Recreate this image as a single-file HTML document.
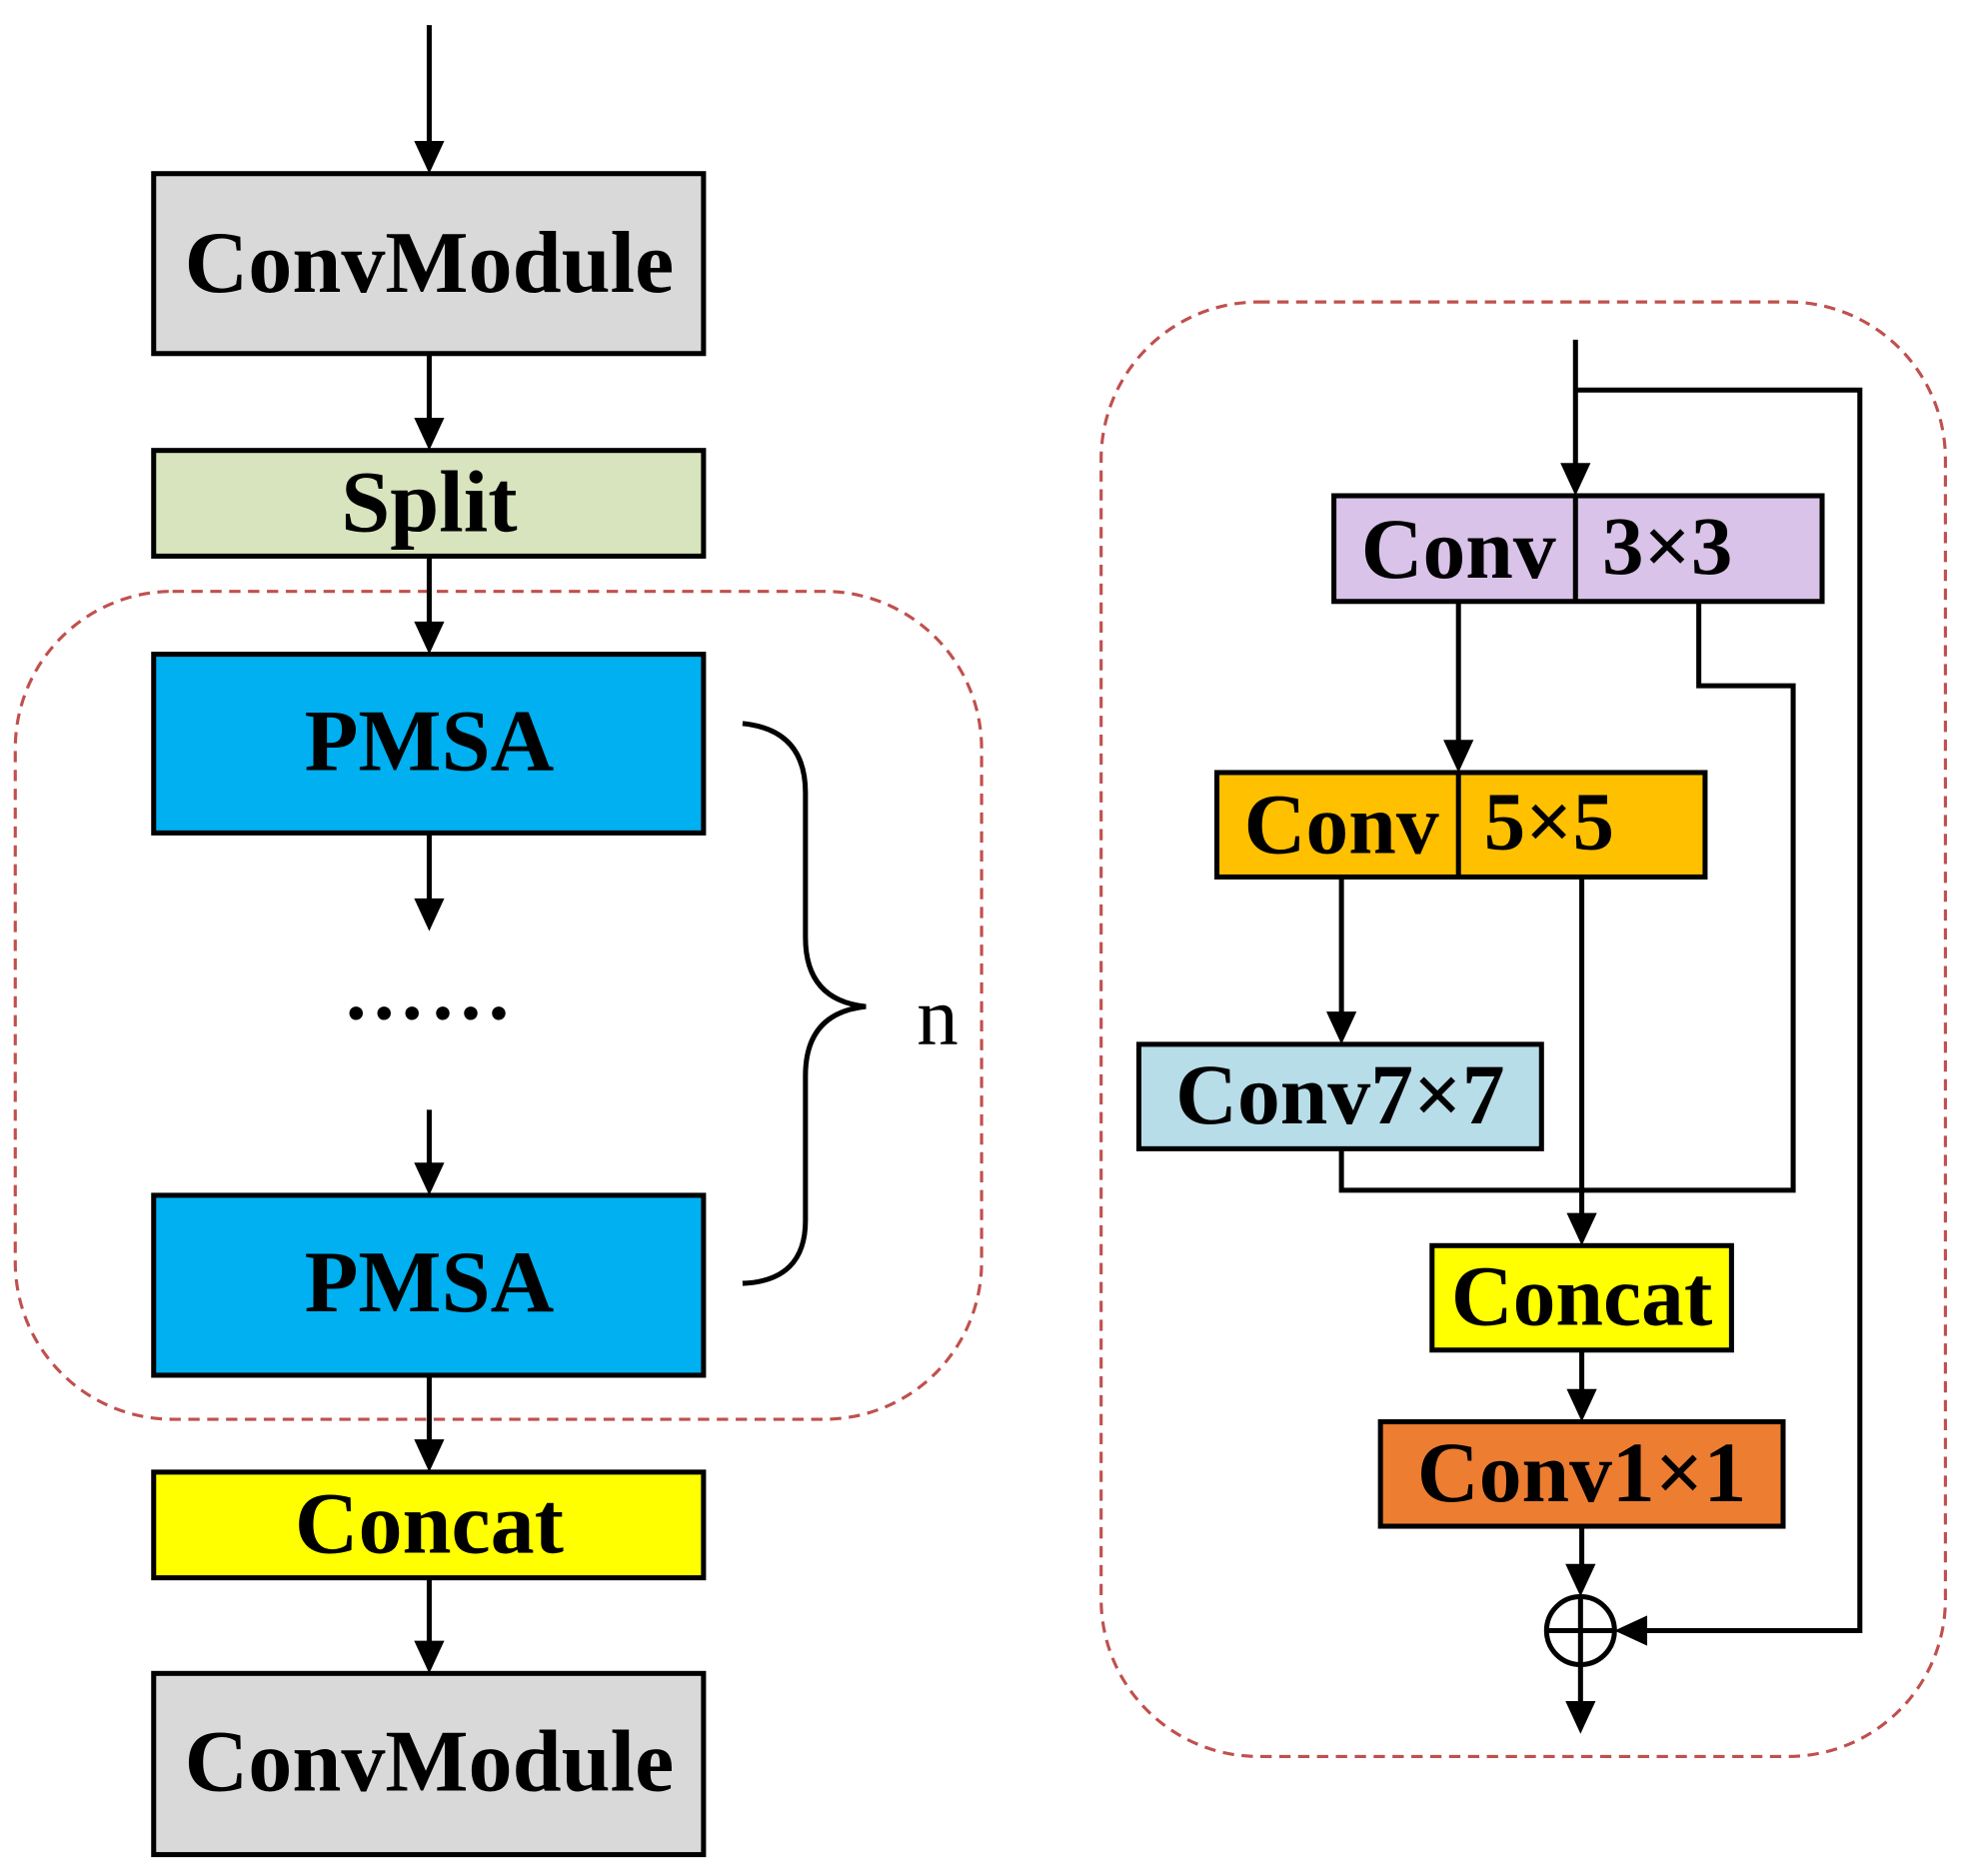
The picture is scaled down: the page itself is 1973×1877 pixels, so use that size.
<!DOCTYPE html>
<html><head><meta charset="utf-8"><style>
html,body{margin:0;padding:0;background:#fff;}
svg{display:block;}
text{font-family:"Liberation Serif",serif;font-weight:bold;fill:#000;}
</style></head><body>
<svg width="1973" height="1877" viewBox="0 0 1567 1491" xmlns="http://www.w3.org/2000/svg">
<g stroke="#000" stroke-width="4" fill="none">
<rect x="12" y="470" width="768" height="658" rx="125" stroke="#c0504d" stroke-width="2.5" stroke-dasharray="9,6"/>
<rect x="875" y="240" width="671" height="1156" rx="125" stroke="#c0504d" stroke-width="2.5" stroke-dasharray="9,6"/>
<line x1="341" y1="20" x2="341" y2="120"/>
<line x1="341" y1="281" x2="341" y2="340"/>
<line x1="341" y1="442" x2="341" y2="502"/>
<line x1="341" y1="662" x2="341" y2="720"/>
<line x1="341" y1="882" x2="341" y2="930"/>
<line x1="341" y1="1093" x2="341" y2="1152"/>
<line x1="341" y1="1254" x2="341" y2="1312"/>
<path d="M590 575 Q640 580 640 630 L640 745 Q640 795 688 800 Q640 805 640 855 L640 970 Q640 1018 590 1020"/>
<line x1="1252" y1="270" x2="1252" y2="376"/>
<polyline points="1252,310 1478,310 1478,1296 1303,1296"/>
<line x1="1159" y1="478" x2="1159" y2="596"/>
<polyline points="1350,478 1350,545 1425,545 1425,946 1066,946 1066,913"/>
<line x1="1066" y1="697" x2="1066" y2="812"/>
<line x1="1257" y1="697" x2="1257" y2="972"/>
<line x1="1257" y1="1073" x2="1257" y2="1112"/>
<line x1="1257" y1="1213" x2="1257" y2="1250"/>
<circle cx="1256" cy="1296" r="27"/>
<line x1="1229" y1="1296" x2="1283" y2="1296"/>
<line x1="1256" y1="1269" x2="1256" y2="1360"/>
</g>
<g fill="#000">
<polygon points="329,112 353,112 341,138"/>
<polygon points="329,332 353,332 341,358"/>
<polygon points="329,494 353,494 341,520"/>
<polygon points="329,714 353,714 341,740"/>
<polygon points="329,924 353,924 341,950"/>
<polygon points="329,1144 353,1144 341,1170"/>
<polygon points="329,1304 353,1304 341,1330"/>
<polygon points="1240,368 1264,368 1252,394"/>
<polygon points="1147,588 1171,588 1159,614"/>
<polygon points="1054,804 1078,804 1066,830"/>
<polygon points="1245,964 1269,964 1257,990"/>
<polygon points="1245,1104 1269,1104 1257,1130"/>
<polygon points="1244,1243 1268,1243 1256,1269"/>
<polygon points="1244,1352 1268,1352 1256,1378"/>
<polygon points="1309,1284 1309,1308 1283,1296"/>
</g>
<g stroke="#000" stroke-width="4">
<rect x="122" y="138" width="437" height="143" fill="#d9d9d9"/>
<rect x="122" y="358" width="437" height="84" fill="#d7e4bd"/>
<rect x="122" y="520" width="437" height="142" fill="#00b0f0"/>
<rect x="122" y="950" width="437" height="143" fill="#00b0f0"/>
<rect x="122" y="1170" width="437" height="84" fill="#ffff00"/>
<rect x="122" y="1330" width="437" height="144" fill="#d9d9d9"/>
<rect x="1060" y="394" width="388" height="84" fill="#d9c3e9"/>
<line x1="1252" y1="394" x2="1252" y2="478"/>
<rect x="967" y="614" width="388" height="83" fill="#ffc000"/>
<line x1="1159" y1="614" x2="1159" y2="697"/>
<rect x="905" y="830" width="320" height="83" fill="#b7dde8"/>
<rect x="1138" y="990" width="238" height="83" fill="#ffff00"/>
<rect x="1097" y="1130" width="320" height="83" fill="#ed7d31"/>
</g>
<g font-size="70" text-anchor="middle">
<text x="341" y="232">ConvModule</text>
<text x="341" y="422">Split</text>
<text x="341" y="612">PMSA</text>
<text x="341" y="1042">PMSA</text>
<text x="341" y="1234">Concat</text>
<text x="341" y="1423">ConvModule</text>
<text x="1159" y="459" font-size="68">Conv</text>
<text x="1325" y="456" font-size="66">3×3</text>
<text x="1066" y="678" font-size="68">Conv</text>
<text x="1231" y="675" font-size="66">5×5</text>
<text x="1065" y="893" font-size="68">Conv7×7</text>
<text x="1257" y="1053" font-size="68">Concat</text>
<text x="1257" y="1193" font-size="68">Conv1×1</text>
<text x="341" y="810" font-size="66" letter-spacing="3">……</text>
<text x="745" y="830" font-size="66" style="font-weight:normal">n</text>
</g>
</svg>
</body></html>
